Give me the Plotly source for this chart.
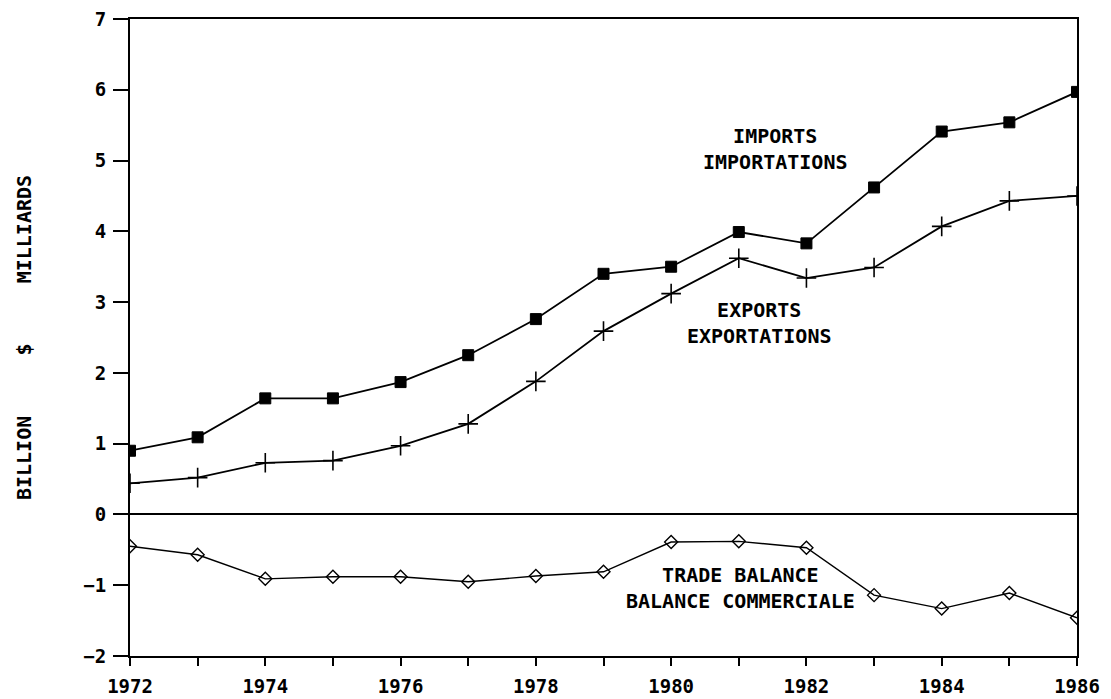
import plotly.graph_objects as go

years = list(range(1972, 1987))
imports = [0.90, 1.09, 1.64, 1.64, 1.87, 2.25, 2.76, 3.40, 3.50, 3.99, 3.83, 4.62, 5.41, 5.54, 5.97]
exports = [0.44, 0.52, 0.73, 0.76, 0.97, 1.28, 1.88, 2.59, 3.12, 3.62, 3.34, 3.49, 4.07, 4.43, 4.50]
balance = [-0.45, -0.57, -0.91, -0.88, -0.88, -0.95, -0.87, -0.81, -0.39, -0.38, -0.47, -1.14, -1.33, -1.11, -1.46]

x_tickvals = years
x_ticktext = [str(y) if y % 2 == 0 else "" for y in years]
y_tickvals = [-2, -1, 0, 1, 2, 3, 4, 5, 6, 7]

label_texts = ["IMPORTS<br>IMPORTATIONS", "EXPORTS<br>EXPORTATIONS", "TRADE BALANCE<br>BALANCE COMMERCIALE"]
label_x = [1981.54, 1981.31, 1981.02]
label_y = [5.17, 2.71, -1.04]

FONT = "DejaVu Sans Mono"
LINE = dict(color="black", width=1.8)

fig = go.Figure()
fig.add_trace(go.Scatter(x=years, y=imports, mode="lines+markers", line=LINE,
                         marker=dict(symbol="square", size=11, color="black",
                                     line=dict(color="black", width=1)),
                         name="Imports"))
fig.add_trace(go.Scatter(x=years, y=exports, mode="lines+markers", line=LINE,
                         marker=dict(symbol="cross-thin", size=14, color="black",
                                     line=dict(color="black", width=1.6)),
                         name="Exports"))
fig.add_trace(go.Scatter(x=years, y=balance, mode="lines+markers", line=dict(color="black", width=1.4),
                         marker=dict(symbol="diamond-open", size=10, color="black",
                                     line=dict(color="black", width=1.4)),
                         name="Trade balance"))

for text, ax_x, ax_y in zip(label_texts, label_x, label_y):
    fig.add_annotation(x=ax_x, y=ax_y, text=text, showarrow=False,
                       xanchor="center", yanchor="middle", align="center",
                       font=dict(family=FONT, size=20, color="black", weight="bold"))

fig.update_layout(
    width=1103, height=691,
    margin=dict(l=122, r=34, t=11, b=43, autoexpand=False),
    paper_bgcolor="white", plot_bgcolor="white",
    showlegend=False,
    font=dict(family=FONT, size=19, color="black", weight="bold"),
)
fig.update_xaxes(
    range=[1972, 1986], tickvals=x_tickvals, ticktext=x_ticktext,
    ticks="outside", ticklen=8, tickwidth=1.5, tickcolor="black",
    showline=True, linewidth=2, linecolor="black", mirror=True,
    showgrid=False, zeroline=False, ticklabelstandoff=4, automargin=False,
    ticklabeloverflow="allow",
    tickfont=dict(family=FONT, size=19, color="black", weight="bold"),
)
fig.update_yaxes(
    range=[-2, 7], tickvals=y_tickvals,
    ticks="outside", ticklen=15, tickwidth=1.5, tickcolor="black",
    showline=True, linewidth=2, linecolor="black", mirror=True,
    showgrid=False, zeroline=True, zerolinecolor="black", zerolinewidth=1.5,
    ticklabelstandoff=3, automargin=False, ticklabeloverflow="allow",
    tickfont=dict(family=FONT, size=19, color="black", weight="bold"),
    title=dict(text="BILLION     $     MILLIARDS", standoff=46,
               font=dict(family=FONT, size=20, color="black", weight="bold")),
)

fig.write_html("out.html")
